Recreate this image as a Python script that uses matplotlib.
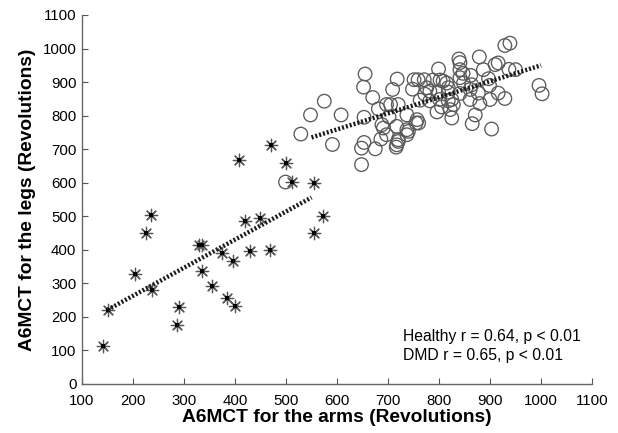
import numpy as np
import matplotlib
matplotlib.use("Agg")
import matplotlib.pyplot as plt

plt.rcParams['font.family'] = ['Liberation Sans', 'DejaVu Sans']

# DMD patients (asterisks)
dmd_x = [141, 150, 203, 225, 235, 238, 286, 290, 329, 336, 335, 354, 375, 384,
         397, 400, 408, 419, 430, 448, 468, 470, 499, 511, 554, 555, 572]
dmd_y = [112, 220, 327, 450, 505, 281, 177, 229, 413, 413, 337, 293, 390, 255,
         366, 232, 669, 487, 397, 494, 400, 713, 660, 602, 599, 449, 500]

# healthy subjects (open circles)
hl_x = [499, 529, 548, 575, 591, 608, 648, 648, 652, 653, 653, 655, 670, 675,
        681, 686, 688, 691, 697, 697, 702, 705, 709, 716, 717, 717, 718, 720,
        720, 720, 737, 737, 737, 740, 748, 751, 759, 771, 755, 757, 760, 763,
        772, 776, 782, 782, 788, 796, 799, 799, 801, 802, 805, 808, 815, 818,
        818, 818, 822, 825, 825, 828, 839, 841, 841, 841, 841, 847, 848, 861,
        861, 862, 864, 865, 871, 877, 879, 880, 887, 897, 899, 900, 903, 910,
        916, 916, 929, 929, 937, 939, 950, 996, 1002]
hl_y = [602, 745, 802, 843, 714, 802, 654, 703, 885, 720, 795, 924, 854, 701,
        820, 730, 773, 763, 743, 833, 796, 833, 878, 706, 713, 768, 909, 723,
        728, 833, 743, 758, 802, 753, 879, 907, 907, 907, 778, 788, 778, 846,
        864, 883, 844, 873, 906, 811, 939, 871, 848, 906, 826, 903, 897, 870,
        883, 844, 818, 793, 848, 833, 969, 958, 937, 913, 866, 926, 897, 848,
        878, 920, 892, 776, 802, 867, 975, 836, 937, 910, 890, 848, 760, 952,
        957, 867, 851, 1009, 938, 1016, 937, 890, 865]

# regression lines
dmd_fit_x = [150, 550]
dmd_fit_y = [221, 556]
hl_fit_x = [550, 1000]
hl_fit_y = [735, 950]

notes = ["Healthy r = 0.64, p < 0.01", "DMD r = 0.65, p < 0.01"]

fig = plt.figure(figsize=(6.18, 4.33), dpi=100)
ax = fig.add_axes([0.1327, 0.1132, 0.8253, 0.8522])

ax.scatter(hl_x, hl_y, s=95, facecolors='none', edgecolors='#5a5a5a',
           linewidths=0.95, zorder=2)
ax.scatter(dmd_x, dmd_y, s=80, marker=(8, 2, 0), color='#555555',
           linewidths=0.9, zorder=3)
ax.scatter(dmd_x, dmd_y, s=5, marker='s', color='black', linewidths=0, zorder=4)

for fx, fy in [(dmd_fit_x, dmd_fit_y), (hl_fit_x, hl_fit_y)]:
    ax.plot(fx, fy, color='#1a1a1a', lw=3.2, dashes=(0.45, 0.45), zorder=5,
            solid_capstyle='butt', dash_capstyle='butt')

ax.text(729, 143, notes[0], fontsize=11.3, va='center', ha='left')
ax.text(729, 86, notes[1], fontsize=11.3, va='center', ha='left')

ax.set_xlim(100, 1100)
ax.set_ylim(0, 1100)
ax.set_xticks(np.arange(100, 1101, 100))
ax.set_yticks(np.arange(0, 1101, 100))
ax.tick_params(direction='in', length=4, width=0.8, color='#555555',
               labelsize=10.8)
ax.tick_params(axis='x', pad=7)
ax.tick_params(axis='y', pad=4)
for side in ['top', 'right']:
    ax.spines[side].set_visible(False)
for side in ['left', 'bottom']:
    ax.spines[side].set_color('#666666')
    ax.spines[side].set_linewidth(1.0)

ax.set_xlabel("A6MCT for the arms (Revolutions)", fontsize=13.8, fontweight='bold',
              labelpad=1)
ax.set_ylabel("A6MCT for the legs (Revolutions)", fontsize=13.8, fontweight='bold',
              labelpad=5)

fig.savefig("out.png", dpi=100)
